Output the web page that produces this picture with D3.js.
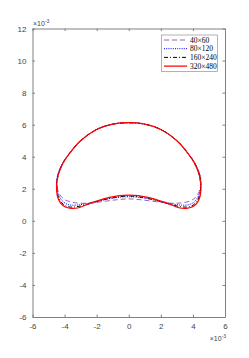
<!DOCTYPE html>
<html><head><meta charset="utf-8">
<script src="https://cdn.jsdelivr.net/npm/d3@7"></script>
<style>html,body{margin:0;padding:0;background:#fff;}svg{display:block;}</style>
</head><body>
<script>
// ---- data (values in units of 1e-3) ----
const xTicks = [-6, -4, -2, 0, 2, 4, 6];
const yTicks = [-6, -4, -2, 0, 2, 4, 6, 8, 10, 12];
const seriesNames = ["40\u00d760", "80\u00d7120", "160\u00d7240", "320\u00d7480"];

const purpleX = [4.5, 4.42, 4.12, 3.7, 3.0, 2.0, 1.0, 0, -1.0, -2.0, -3.0, -3.7, -4.12, -4.42, -4.5, -4.38, -4.15, -3.85, -3.3, -2.5, -1.5, -0.7, 0, 0.7, 1.5, 2.5, 3.3, 3.85, 4.15, 4.38];
const purpleY = [2.35, 2.9, 3.6, 4.2, 5.0, 5.7, 6.03, 6.12, 6.03, 5.7, 5.0, 4.2, 3.6, 2.9, 2.35, 1.8, 1.45, 1.25, 1.12, 1.1, 1.22, 1.32, 1.37, 1.32, 1.22, 1.1, 1.12, 1.25, 1.45, 1.8];

const blueX = [4.5, 4.42, 4.12, 3.7, 3.0, 2.0, 1.0, 0, -1.0, -2.0, -3.0, -3.7, -4.12, -4.42, -4.5, -4.4, -4.15, -3.8, -3.3, -2.6, -1.6, -0.8, 0, 0.8, 1.6, 2.6, 3.3, 3.8, 4.15, 4.4];
const blueY = [2.3, 2.9, 3.6, 4.2, 5.0, 5.7, 6.03, 6.12, 6.03, 5.7, 5.0, 4.2, 3.6, 2.9, 2.3, 1.7, 1.25, 1.02, 0.98, 1.08, 1.3, 1.45, 1.5, 1.45, 1.3, 1.08, 0.98, 1.02, 1.25, 1.7];

const blackX = [4.48, 4.4, 4.1, 3.7, 3.0, 2.0, 1.0, 0, -1.0, -2.0, -3.0, -3.7, -4.1, -4.4, -4.48, -4.42, -4.2, -3.85, -3.45, -2.8, -1.8, -0.9, 0, 0.9, 1.8, 2.8, 3.45, 3.85, 4.2, 4.42];
const blackY = [2.2, 2.85, 3.6, 4.2, 5.0, 5.7, 6.03, 6.12, 6.03, 5.7, 5.0, 4.2, 3.6, 2.85, 2.2, 1.6, 1.15, 0.9, 0.86, 0.97, 1.25, 1.45, 1.55, 1.45, 1.25, 0.97, 0.86, 0.9, 1.15, 1.6];

const redX = [4.5, 4.4, 4.1, 3.7, 3.0, 2.0, 1.0, 0, -1.0, -2.0, -3.0, -3.7, -4.1, -4.4, -4.5, -4.45, -4.25, -3.95, -3.6, -3.2, -2.4, -1.2, 0, 1.2, 2.4, 3.2, 3.6, 3.95, 4.25, 4.45];
const redY = [2.2, 2.85, 3.6, 4.2, 5.0, 5.7, 6.03, 6.12, 6.03, 5.7, 5.0, 4.2, 3.6, 2.85, 2.2, 1.55, 1.1, 0.86, 0.78, 0.8, 1.1, 1.47, 1.6, 1.47, 1.1, 0.8, 0.78, 0.86, 1.1, 1.55];

// ---- layout ----
const W = 249, H = 358;
const L = 32.5, R = 225, T = 28.5, B = 317;
const axisColor = "#808080", textColor = "#444";

const svg = d3.select("body").append("svg").attr("width", W).attr("height", H);

const x = d3.scaleLinear().domain([-6, 6]).range([L, R]);
const y = d3.scaleLinear().domain([-6, 12]).range([B, T]);

// curves
const styles = [
  {xs: purpleX, ys: purpleY, color: "#9b5fc0", width: 1, dash: "5,3"},
  {xs: blueX, ys: blueY, color: "#0000ff", width: 1, dash: "1,1.2"},
  {xs: blackX, ys: blackY, color: "#000000", width: 1, dash: "4,2,1,2"},
  {xs: redX, ys: redY, color: "#ff0000", width: 1.25, dash: null}
];
const line = d3.line().x(d => x(d[0])).y(d => y(d[1])).curve(d3.curveCatmullRomClosed.alpha(0.5));
styles.forEach(s => {
  const pts = s.xs.map((v, i) => [v, s.ys[i]]);
  svg.append("path").attr("d", line(pts)).attr("fill", "none")
    .attr("stroke", s.color).attr("stroke-width", s.width)
    .attr("stroke-dasharray", s.dash);
});

// axes (box with inward ticks)
const gB = svg.append("g").attr("transform", `translate(0,${B})`)
  .call(d3.axisBottom(x).tickValues(xTicks).tickSizeInner(-2.5).tickSizeOuter(0).tickPadding(6).tickFormat(d3.format("d")));
const gT = svg.append("g").attr("transform", `translate(0,${T})`)
  .call(d3.axisTop(x).tickValues(xTicks).tickSizeInner(-2.5).tickSizeOuter(0).tickFormat(""));
const gL = svg.append("g").attr("transform", `translate(${L},0)`)
  .call(d3.axisLeft(y).tickValues(yTicks).tickSizeInner(-2.5).tickSizeOuter(0).tickPadding(6).tickFormat(d3.format("d")));
const gR = svg.append("g").attr("transform", `translate(${R},0)`)
  .call(d3.axisRight(y).tickValues(yTicks).tickSizeInner(-2.5).tickSizeOuter(0).tickFormat(""));
[gB, gT, gL, gR].forEach(g => {
  g.select(".domain").attr("stroke", axisColor);
  g.selectAll(".tick line").attr("stroke", axisColor);
  g.selectAll(".tick text").attr("fill", textColor).style("font-family", "Liberation Sans, Arial, sans-serif").style("font-size", "8px");
});
gB.selectAll(".tick text").text(d => d < 0 ? "-" + Math.abs(d) : d);
gL.selectAll(".tick text").text(d => d < 0 ? "-" + Math.abs(d) : d);

// exponent labels
function expLabel(px, py, anchor) {
  const t = svg.append("text").attr("x", px).attr("y", py).attr("text-anchor", anchor)
    .attr("fill", textColor).style("font-family", "Liberation Sans, Arial, sans-serif").style("font-size", "7px");
  t.append("tspan").text("\u00d710");
  t.append("tspan").attr("dy", -3).style("font-size", "5px").text("-3");
}
expLabel(L + 0.5, T - 2.5, "start");
expLabel(R + 1, 341, "end");

// legend
const lg = svg.append("g");
const lx = 161.5, ly = 35, lw = 56, lh = 36.5;
lg.append("rect").attr("x", lx).attr("y", ly).attr("width", lw).attr("height", lh)
  .attr("fill", "#fff").attr("stroke", "#a0a0a0").attr("stroke-width", 0.8);
styles.forEach((s, i) => {
  const yy = ly + 5 + i * 8.7;
  lg.append("line").attr("x1", lx + 2.5).attr("x2", lx + 25.5).attr("y1", yy).attr("y2", yy)
    .attr("stroke", s.color).attr("stroke-width", s.width).attr("stroke-dasharray", s.dash);
  lg.append("text").attr("x", lx + 28.5).attr("y", yy + 2.6).attr("fill", "#000")
    .style("font-family", "Liberation Serif, Times New Roman, serif").style("font-size", "7.5px")
    .text(seriesNames[i]);
});
</script>
</body></html>
